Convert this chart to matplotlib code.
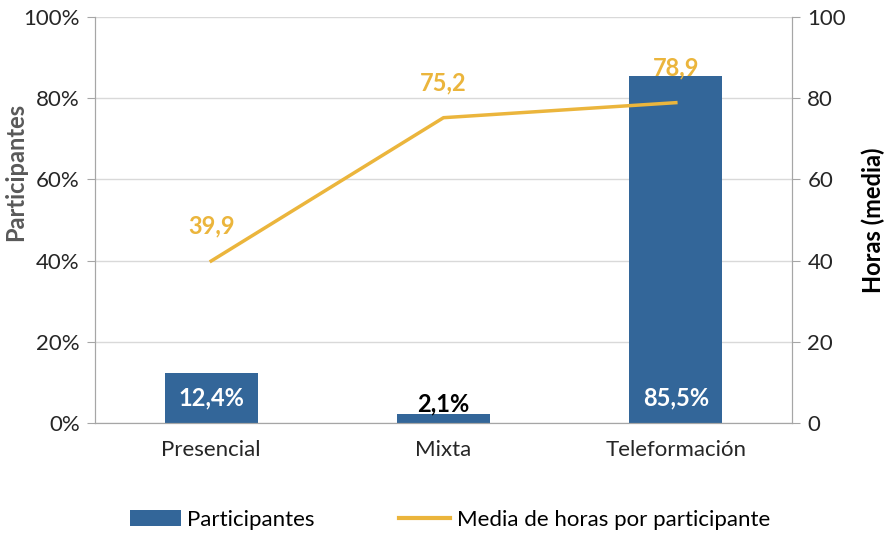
import matplotlib.pyplot as plt
from matplotlib.ticker import FuncFormatter
from matplotlib.patches import Patch
from matplotlib.lines import Line2D

categories = ['Presencial', 'Mixta', 'Teleformación']
participantes = [12.4, 2.1, 85.5]
horas = [39.9, 75.2, 78.9]

bar_color = '#336699'
line_color = '#EBB53C'
grid_color = '#D9D9D9'
spine_color = '#A6A6A6'

plt.rcParams['font.family'] = ['Lato', 'DejaVu Sans']

fig = plt.figure(figsize=(8.85, 5.34), dpi=100)
ax1 = fig.add_axes([95 / 885, 1 - 423 / 534, 697 / 885, 406 / 534])
ax2 = ax1.twinx()

x = list(range(len(categories)))
bars = ax1.bar(x, participantes, width=0.4, color=bar_color, zorder=2)
ax1.set_xlim(-0.5, 2.5)
ax1.set_ylim(0, 100)
ax1.set_yticks(range(0, 101, 20))
ax1.yaxis.set_major_formatter(FuncFormatter(lambda v, p: f'{int(v)}%'))
ax1.set_xticks(x)
ax1.set_xticklabels(categories)
ax1.grid(axis='y', color=grid_color, linewidth=1, zorder=0)
ax1.set_axisbelow(True)

ax2.plot(x, horas, color=line_color, linewidth=2.5, zorder=3)
ax2.set_ylim(0, 100)
ax2.set_yticks(range(0, 101, 20))

for a in (ax1, ax2):
    a.spines['top'].set_visible(False)
    for s in ('left', 'right', 'bottom'):
        a.spines[s].set_color(spine_color)
    a.tick_params(colors='#262626', labelsize=16, length=6, color=spine_color, pad=5)
ax1.tick_params(axis='x', length=0, pad=12)
ax2.set_zorder(ax1.get_zorder() + 1)
ax2.patch.set_visible(False)

ax1.set_ylabel('Participantes', fontsize=17, fontweight='bold', color='#595959')
ax1.yaxis.set_label_coords(-0.097, 0.618)
ax2.set_ylabel('Horas (media)', fontsize=17, fontweight='bold', color='#000000')
ax2.yaxis.set_label_coords(1.100, 0.5)

# bar labels
for xi, v in zip(x, participantes):
    txt = f'{v:.1f}%'.replace('.', ',')
    if v > 5:
        ax1.text(xi, 3.3, txt, ha='center', va='bottom', color='white',
                 fontsize=17, fontweight='bold', zorder=4)
    else:
        ax1.text(xi, v - 0.3, txt, ha='center', va='bottom', color='black',
                 fontsize=17, fontweight='bold', zorder=4)

# line labels
for xi, v in zip(x, horas):
    ax2.annotate(f'{v:.1f}'.replace('.', ','), (xi, v), xytext=(0, 25),
                 textcoords='offset points', ha='center', va='center',
                 color=line_color, fontsize=17, fontweight='bold')

handles = [Patch(facecolor=bar_color, label='Participantes'),
           Line2D([0], [0], color=line_color, linewidth=3,
                  label='Media de horas por participante')]
fig.legend(handles=handles, loc='center', bbox_to_anchor=(450 / 885, 1 - 520 / 534),
           ncol=2, frameon=False, fontsize=16, columnspacing=3.8,
           handlelength=2.3, handletextpad=0.3)

fig.savefig('out.png', dpi=100)
